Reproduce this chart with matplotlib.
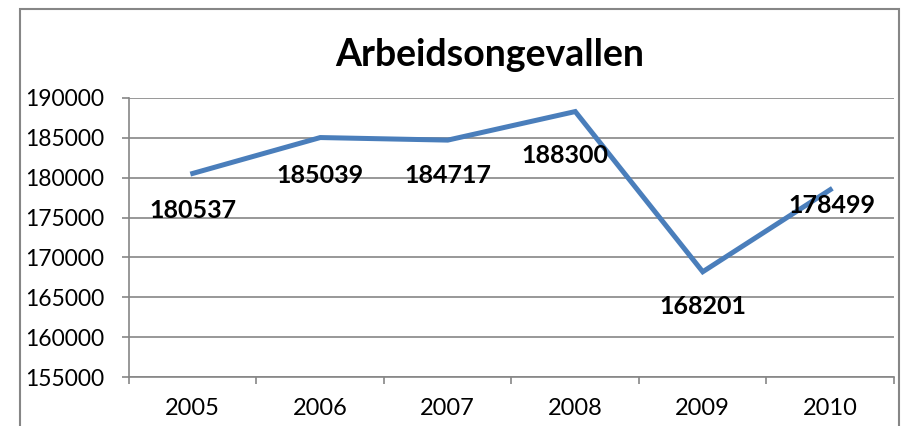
import matplotlib
matplotlib.use("Agg")
import matplotlib.pyplot as plt
import numpy as np
from matplotlib.patches import Rectangle

jaren = ["2005", "2006", "2007", "2008", "2009", "2010"]
ongevallen = [180537, 185039, 184717, 188300, 168201, 178499]
# label offsets in pixels (dx, dy) relative to each point
label_dx = [0, 0, 0, -10, 0, 2]
label_dy = [-37, -38, -35, -44, -35, -16]

plt.rcParams['font.family'] = ['Lato', 'DejaVu Sans']
grijs = '#868686'

fig = plt.figure(figsize=(9.04, 4.26), dpi=100)
ax = fig.add_axes([129/904, 49/426, 765/904, 279/426])

x = np.arange(len(jaren))
ax.plot(x, ongevallen, color='#4a7ebb', lw=3.6, solid_joinstyle='miter', zorder=3)

for xi, v, dx, dy in zip(x, ongevallen, label_dx, label_dy):
    ax.annotate(str(v), (xi, v), xytext=(dx*0.72, dy*0.72), textcoords='offset points',
                ha='center', va='center', fontsize=18, fontweight='bold', color='black', zorder=4)

ax.set_xlim(-0.5, len(jaren) - 0.5)
ax.set_ylim(155000, 190000)
ax.set_yticks(np.arange(155000, 190001, 5000))
ax.set_yticklabels([str(v) for v in range(155000, 190001, 5000)])
ax.set_xticks(x)
ax.set_xticklabels(jaren)
ax.set_xticks(np.arange(-0.5, len(jaren)), minor=True)

ax.grid(axis='y', color=grijs, lw=1.2)
ax.set_axisbelow(True)
for s in ['top', 'right']:
    ax.spines[s].set_visible(False)
for s in ['left', 'bottom']:
    ax.spines[s].set_color(grijs)
    ax.spines[s].set_linewidth(1.2)

ax.tick_params(axis='y', length=5, width=1.2, color=grijs, pad=13, labelsize=16.5)
ax.tick_params(axis='x', which='major', length=0, pad=15, labelsize=17)
ax.tick_params(axis='x', which='minor', length=5, width=1.2, color=grijs)

fig.text(490/904, 1 - 55/426, "Arbeidsongevallen", ha='center', va='center',
         fontsize=27, fontweight='bold')

fig.patches.append(Rectangle((20/904, -0.1), 879/904, 1.1 - 9/426, transform=fig.transFigure,
                             fill=False, edgecolor=grijs, lw=1.5))

fig.savefig("out.png", dpi=100)
